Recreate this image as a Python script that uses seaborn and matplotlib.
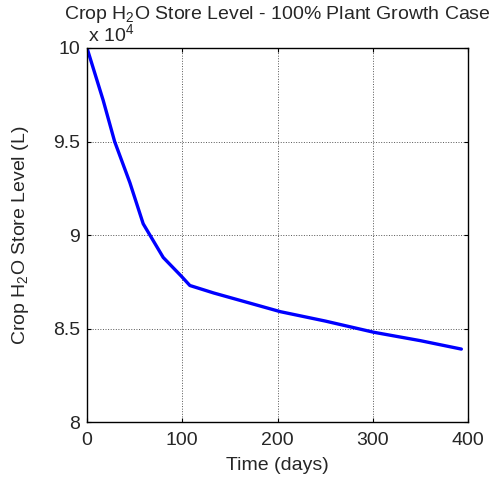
import matplotlib
matplotlib.use("Agg")
import matplotlib.pyplot as plt
import pandas as pd
import seaborn as sns

# values (store level in units of 1e4 L)
days = [0, 17, 29, 45, 59, 80, 99, 108, 133, 168, 203, 250, 301, 350, 393]
level = [10.0, 9.72, 9.50, 9.28, 9.06, 8.88, 8.78, 8.73, 8.69, 8.64, 8.59, 8.54, 8.48, 8.435, 8.39]
x_ticks = [0, 100, 200, 300, 400]
y_ticks = [8, 8.5, 9, 9.5, 10]
y_tick_labels = ["8", "8.5", "9", "9.5", "10"]

sns.set_theme(style="whitegrid")
plt.rcParams["font.family"] = ["Liberation Sans", "DejaVu Sans"]
plt.rcParams["mathtext.fontset"] = "custom"
plt.rcParams["mathtext.rm"] = "Liberation Sans"
plt.rcParams["mathtext.it"] = "Liberation Sans"

df = pd.DataFrame({"day": days, "level": level})

fig = plt.figure(figsize=(4.98, 4.8), dpi=100)
ax = fig.add_axes([0.1747, 0.1208, 0.7651, 0.7792])
sns.lineplot(data=df, x="day", y="level", ax=ax, color="#0000ff", linewidth=2.4)

ax.set_xlim(0, 400)
ax.set_ylim(8, 10)
ax.set_xticks(x_ticks)
ax.set_yticks(y_ticks)
ax.set_xticklabels([str(t) for t in x_ticks])
ax.set_yticklabels(y_tick_labels)
ax.tick_params(direction="in", length=3, width=0.8, labelsize=14, color="black",
               top=True, right=True, bottom=True, left=True)
ax.tick_params(axis="x", pad=7)
ax.tick_params(axis="y", pad=5)
ax.grid(True, color="#555555", linestyle=":", linewidth=0.7)
ax.set_facecolor("white")
for s in ax.spines.values():
    s.set_color("black")
    s.set_linewidth(1.0)

ax.set_xlabel("Time (days)", fontsize=14, labelpad=6)
ax.set_ylabel("Crop H$_2$O Store Level (L)", fontsize=14, labelpad=16)
ax.set_title("Crop H$_2$O Store Level - 100% Plant Growth Case", fontsize=14, pad=21)
ax.annotate("x 10$^4$", xy=(0, 1), xycoords="axes fraction", xytext=(1, 5),
            textcoords="offset points", fontsize=14, ha="left", va="baseline")

fig.savefig("out.png", dpi=100)
